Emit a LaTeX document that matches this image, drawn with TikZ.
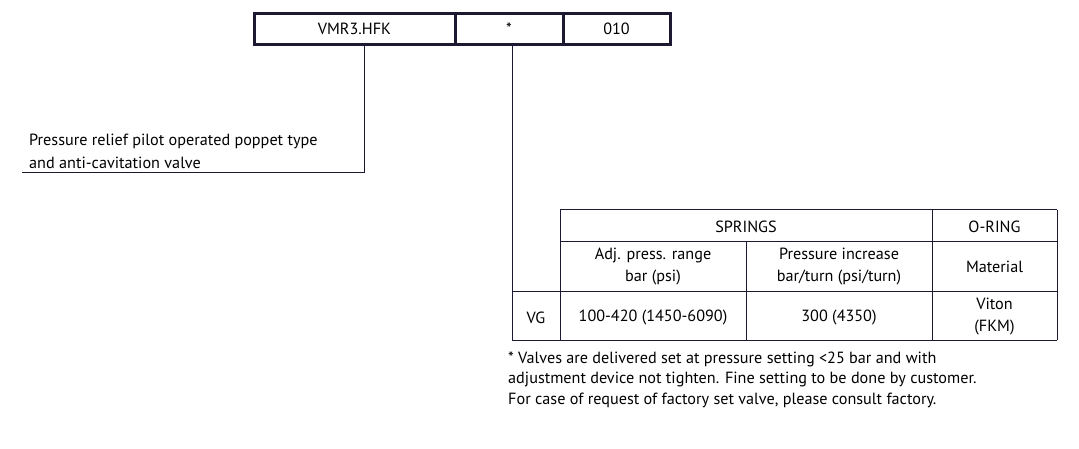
\documentclass[tikz,border=0pt]{standalone}
\usepackage{fontspec}
\setmainfont{PT Sans}
\definecolor{ln}{RGB}{30,25,50}
\begin{document}
\begin{tikzpicture}[x=1pt,y=-1pt,
  every node/.style={font=\fontsize{16.2}{22}\selectfont, inner sep=0pt, text=black},
  codebox/.style={draw=ln, line width=3pt, minimum height=31pt},
  conn/.style={draw=ln, line width=1pt},
  grid/.style={draw=ln, line width=1pt}]
\useasboundingbox (0,0) rectangle (1079,448);
% code boxes
\node[codebox, minimum width=201pt] (b1) at (354.5,29) {VMR3.HFK};
\node[codebox, minimum width=108pt] (b2) at (509,29) {\raisebox{1pt}{*}};
\node[codebox, minimum width=107pt] (b3) at (616.5,29) {010};
% description
\coordinate (c1) at (364,172.5);
\coordinate (c1e) at (22,172.5);
\draw[conn] (b1.south -| c1) -- (c1) -- (c1e);
\node[anchor=west, align=left, font=\fontsize{16.2}{23}\selectfont] (desc) at (29,151) {Pressure relief pilot operated poppet type\\and anti-cavitation valve};
% table
\coordinate (tl) at (512,340);
\draw[conn] (b2.south -| tl) -- (tl);
\draw[grid] (560,209.5) -- (1057,209.5);
\draw[grid] (560,241) -- (1057,241);
\draw[grid] (512,291) -- (1057,291);
\draw[grid] (tl) -- (1057,340);
\draw[grid] (560,209.5) -- (560,340);
\draw[grid] (746.5,241) -- (746.5,340);
\draw[grid] (932,209.5) -- (932,340);
\draw[grid] (1057,209.5) -- (1057,340);
\node (springs) at (746,227) {SPRINGS};
\node (oring) at (994.5,227) {O-RING};
\node[align=center] (adj) at (653,267) {Adj. press. range\\bar (psi)};
\node[align=center] (pinc) at (839,267) {Pressure increase\\bar/turn (psi/turn)};
\node (mat) at (994.5,267) {Material};
\node (vg) at (536,317.5) {VG};
\node (rng) at (653,317.5) {100-420 (1450-6090)};
\node (val) at (839,317.5) {300 (4350)};
\node[align=center] (vit) at (994.5,317) {Viton\\(FKM)};
\node[anchor=west, align=left, font=\fontsize{16.2}{20.5}\selectfont] (note) at (508,379.5) {* Valves are delivered set at pressure setting <25 bar and with\\adjustment device not tighten. Fine setting to be done by customer.\\For case of request of factory set valve, please consult factory.};
\end{tikzpicture}
\end{document}
